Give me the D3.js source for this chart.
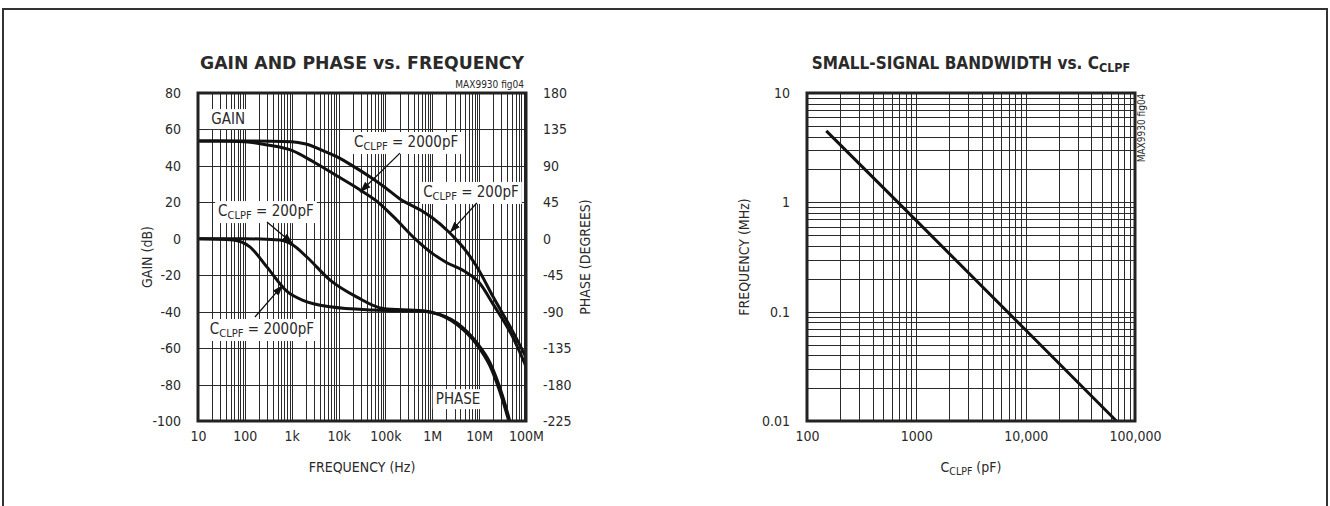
<!DOCTYPE html>
<html><head><meta charset="utf-8">
<script src="https://cdn.jsdelivr.net/npm/d3@7"></script>
<style>
body{margin:0;background:#fff;}
svg{display:block;}
text{font-family:"Liberation Sans Narrow","Arial Narrow","DejaVu Sans Condensed",sans-serif;fill:#2a2a2a;}
</style></head><body>
<svg id="c" width="1330" height="506"></svg>
<script>
// ---------- DATA ----------
// Left chart: gain (dB) and phase (deg) vs frequency (Hz)
const gainFreq2000 = [10,30,100,300,1e3,3e3,1e4,3e4,7e4,1.5e5,4.3e5,1e6,2e6,5e6,1e7,2e7,5e7,1e8];
const gainDb2000   = [53.7,53.7,53.2,51.5,48.5,42,34,26.5,20,12,0,-8,-13,-18,-24,-36,-53,-70];
const gainFreq200  = [10,100,1e3,2e3,5e3,1e4,2e4,5e4,1e5,2e5,6.3e5,1e6,2.2e6,3e6,5e6,9e6,2e7,5e7,1e8];
const gainDb200    = [53.7,53.7,53.3,52,48,44.5,40,33.5,28,22,15,11.5,4,0.5,-6,-15.5,-32,-50,-65];
const phaseFreq200 = [10,100,560,1060,2100,6600,24700,88700,6.3e5,8.9e5,3.37e6,9e6,1.7e7,3.2e7,4.6e7];
const phaseDeg200  = [0,0,-1.5,-7.7,-22.5,-51,-72,-86,-89,-90.4,-104,-128.7,-153,-195,-227];
const phaseFreq2000= [10,56,128,297,794,1740,6600,54000,6.3e5,1e6,3.37e6,9e6,1.7e7,3.2e7,4.4e7];
const phaseDeg2000 = [0,-1.5,-10,-35,-65,-76,-84,-88,-89.5,-91,-106,-131,-157,-200,-227];
const freqTicks    = [10,100,1e3,1e4,1e5,1e6,1e7,1e8];
const freqLabels   = ["10","100","1k","10k","100k","1M","10M","100M"];
const gainTicks    = [80,60,40,20,0,-20,-40,-60,-80,-100];
const phaseTicks   = [180,135,90,45,0,-45,-90,-135,-180,-225];
// Right chart: bandwidth (MHz) vs C_CLPF (pF)
const bwCap   = [150,1000,10000,67600];
const bwMHz   = [4.5,0.68,0.068,0.01];
const capTicks   = [100,1000,10000,100000];
const capLabels  = ["100","1000","10,000","100,000"];
const bwTicks    = [10,1,0.1,0.01];
const bwLabels   = ["10","1","0.1","0.01"];

// ---------- DRAW ----------
const svg = d3.select("#c");
svg.append("path").attr("d","M3,506V9H1327V506").attr("fill","none").attr("stroke","#333").attr("stroke-width",2);

const defs = svg.append("defs");
defs.append("marker").attr("id","ah").attr("viewBox","0 0 10 10").attr("refX",10).attr("refY",5)
  .attr("markerWidth",11).attr("markerHeight",11).attr("markerUnits","userSpaceOnUse").attr("orient","auto")
  .append("path").attr("d","M0,1.5L10,5L0,8.5Z").attr("fill","#111");

function logGridValues(lo, hi){
  const v=[]; for(let e=Math.log10(lo); e<Math.log10(hi); e++){ for(let m=1;m<10;m++) v.push(m*Math.pow(10,e)); }
  v.push(hi); return v;
}
const gridStyle = g=>g.selectAll("line").attr("stroke","#2a2a2a").attr("stroke-width",1).attr("shape-rendering","crispEdges");

// ===== Left chart =====
const L = {x0:198,x1:526,y0:93,y1:421};
const xL = d3.scaleLog().domain([10,1e8]).range([L.x0,L.x1]);
const yG = d3.scaleLinear().domain([-100,80]).range([L.y1,L.y0]);
const yP = d3.scaleLinear().domain([-225,180]).range([L.y1,L.y0]);

defs.append("clipPath").attr("id","clipL").append("rect")
  .attr("x",L.x0).attr("y",L.y0).attr("width",L.x1-L.x0).attr("height",L.y1-L.y0);

const gl = svg.append("g");
gl.append("g").attr("transform",`translate(0,${L.y1})`)
  .call(d3.axisBottom(xL).tickValues(logGridValues(10,1e8)).tickSize(-(L.y1-L.y0)).tickFormat(""))
  .call(g=>g.select(".domain").remove()).call(gridStyle);
gl.append("g").attr("transform",`translate(${L.x0},0)`)
  .call(d3.axisLeft(yG).tickValues(gainTicks).tickSize(-(L.x1-L.x0)).tickFormat(""))
  .call(g=>g.select(".domain").remove()).call(gridStyle);

const tickFont = g=>g.selectAll("text").attr("font-size","14px").attr("fill","#2a2a2a");
gl.append("g").attr("transform",`translate(0,${L.y1})`)
  .call(d3.axisBottom(xL).tickValues(freqTicks).tickSize(0).tickPadding(10).tickFormat((d,i)=>freqLabels[i]))
  .call(g=>g.select(".domain").remove()).call(tickFont);
gl.append("g").attr("transform",`translate(${L.x0},0)`)
  .call(d3.axisLeft(yG).tickValues(gainTicks).tickSize(0).tickPadding(17).tickFormat(d=>d))
  .call(g=>g.select(".domain").remove()).call(tickFont);
gl.append("g").attr("transform",`translate(${L.x1},0)`)
  .call(d3.axisRight(yP).tickValues(phaseTicks).tickSize(0).tickPadding(17).tickFormat(d=>d))
  .call(g=>g.select(".domain").remove()).call(tickFont);

const cl = gl.append("g").attr("clip-path","url(#clipL)");
const lineG = d3.line().x(d=>xL(d[0])).y(d=>yG(d[1])).curve(d3.curveMonotoneX);
const lineP = d3.line().x(d=>xL(d[0])).y(d=>yP(d[1])).curve(d3.curveMonotoneX);
const series = [
  {line:lineG, d:d3.zip(gainFreq2000,gainDb2000)},
  {line:lineG, d:d3.zip(gainFreq200,gainDb200)},
  {line:lineP, d:d3.zip(phaseFreq200,phaseDeg200)},
  {line:lineP, d:d3.zip(phaseFreq2000,phaseDeg2000)}
];
series.forEach(s=>cl.append("path").attr("d",s.line(s.d)).attr("fill","none").attr("stroke","#111").attr("stroke-width",3).attr("stroke-linejoin","round"));

gl.append("rect").attr("x",L.x0).attr("y",L.y0).attr("width",L.x1-L.x0).attr("height",L.y1-L.y0)
  .attr("fill","none").attr("stroke","#222").attr("stroke-width",3);

function label(g, x, y, parts, size){
  const t = g.append("text").attr("x",x).attr("y",y).attr("text-anchor","middle").attr("font-size",size+"px");
  parts.forEach(p=>{
    const ts = t.append("tspan").text(p.t);
    if(p.sub){ ts.attr("font-size",(size*0.74)+"px").attr("dy",3); }
    else if(p.up){ ts.attr("dy",-3); }
  });
  const b = t.node().getBBox();
  g.insert("rect", function(){return t.node();}).attr("x",b.x-3).attr("y",b.y-1).attr("width",b.width+6).attr("height",b.height+2).attr("fill","#fff");
  return t;
}
const an = gl.append("g");
const cParts = v=>[{t:"C"},{t:"CLPF",sub:true},{t:" = "+v,up:true}];
const ySh = 5;
label(an, xL(44), yG(65.7)+ySh, [{t:"GAIN"}], 15);
label(an, xL(2.76e5), yG(53.1)+ySh, cParts("2000pF"), 15);
label(an, xL(6.7e6), yG(25.7)+ySh, cParts("200pF"), 15);
label(an, xL(282), yG(15.2)+ySh, cParts("200pF"), 15);
label(an, xL(232), yG(-49.5)+ySh, cParts("2000pF"), 15);
label(an, xL(3.55e6), yP(-198)+ySh, [{t:"PHASE"}], 15);

const arrows = [
  [xL(2.04e5), yG(47), xL(2.86e4), yG(25.5)],
  [xL(8.9e6), yG(19.6), xL(2.37e6), yG(3.4)],
  [xL(297), yP(20.7), xL(1060), yP(-6)],
  [xL(164), yP(-96.6), xL(650), yP(-57)]
];
arrows.forEach(a=>an.append("line").attr("x1",a[0]).attr("y1",a[1]).attr("x2",a[2]).attr("y2",a[3])
  .attr("stroke","#111").attr("stroke-width",1.3).attr("marker-end","url(#ah)"));

svg.append("text").attr("x",(L.x0+L.x1)/2).attr("y",69).attr("text-anchor","middle")
  .attr("font-size","17px").attr("font-weight","bold").attr("fill","#111")
  .attr("textLength",324).attr("lengthAdjust","spacingAndGlyphs").text("GAIN AND PHASE vs. FREQUENCY");
svg.append("text").attr("x",L.x1-2).attr("y",88).attr("text-anchor","end").attr("font-size","10px").attr("fill","#444").text("MAX9930 fig04");
svg.append("text").attr("x",(L.x0+L.x1)/2).attr("y",472).attr("text-anchor","middle").attr("font-size","14px").text("FREQUENCY (Hz)");
svg.append("text").attr("transform",`translate(152,${(L.y0+L.y1)/2}) rotate(-90)`).attr("text-anchor","middle").attr("font-size","14px").text("GAIN (dB)");
svg.append("text").attr("transform",`translate(590,${(L.y0+L.y1)/2}) rotate(-90)`).attr("text-anchor","middle").attr("font-size","14px").text("PHASE (DEGREES)");

// ===== Right chart =====
const R = {x0:807,x1:1135,y0:93,y1:421};
const xR = d3.scaleLog().domain([100,1e5]).range([R.x0,R.x1]);
const yR = d3.scaleLog().domain([0.01,10]).range([R.y1,R.y0]);
const gr = svg.append("g");
gr.append("g").attr("transform",`translate(0,${R.y1})`)
  .call(d3.axisBottom(xR).tickValues(logGridValues(100,1e5)).tickSize(-(R.y1-R.y0)).tickFormat(""))
  .call(g=>g.select(".domain").remove()).call(gridStyle);
gr.append("g").attr("transform",`translate(${R.x0},0)`)
  .call(d3.axisLeft(yR).tickValues(logGridValues(0.01,10)).tickSize(-(R.x1-R.x0)).tickFormat(""))
  .call(g=>g.select(".domain").remove()).call(gridStyle);
gr.append("g").attr("transform",`translate(0,${R.y1})`)
  .call(d3.axisBottom(xR).tickValues(capTicks).tickSize(0).tickPadding(10).tickFormat((d,i)=>capLabels[i]))
  .call(g=>g.select(".domain").remove()).call(tickFont);
gr.append("g").attr("transform",`translate(${R.x0},0)`)
  .call(d3.axisLeft(yR).tickValues(bwTicks).tickSize(0).tickPadding(17).tickFormat((d,i)=>bwLabels[i]))
  .call(g=>g.select(".domain").remove()).call(tickFont);
gr.append("path").attr("d",d3.line().x(d=>xR(d[0])).y(d=>yR(d[1]))(d3.zip(bwCap,bwMHz)))
  .attr("fill","none").attr("stroke","#111").attr("stroke-width",3);
gr.append("rect").attr("x",R.x0).attr("y",R.y0).attr("width",R.x1-R.x0).attr("height",R.y1-R.y0)
  .attr("fill","none").attr("stroke","#222").attr("stroke-width",3);

const t2 = svg.append("text").attr("x",(R.x0+R.x1)/2).attr("y",69).attr("text-anchor","middle")
  .attr("font-size","17px").attr("font-weight","bold").attr("fill","#111");
t2.append("tspan").text("SMALL-SIGNAL BANDWIDTH vs. C");
t2.append("tspan").attr("font-size","12.5px").attr("dy",3).text("CLPF");
svg.append("text").attr("transform",`translate(1145,${128}) rotate(-90)`).attr("text-anchor","middle").attr("font-size","10px").attr("fill","#444").text("MAX9930 fig04");
const t3 = svg.append("text").attr("x",(R.x0+R.x1)/2).attr("y",472).attr("text-anchor","middle").attr("font-size","14px");
t3.append("tspan").text("C");
t3.append("tspan").attr("font-size","10.5px").attr("dy",3).text("CLPF");
t3.append("tspan").attr("dy",-3).text(" (pF)");
svg.append("text").attr("transform",`translate(749,${(R.y0+R.y1)/2}) rotate(-90)`).attr("text-anchor","middle").attr("font-size","14px").text("FREQUENCY (MHz)");
</script>
</body></html>
